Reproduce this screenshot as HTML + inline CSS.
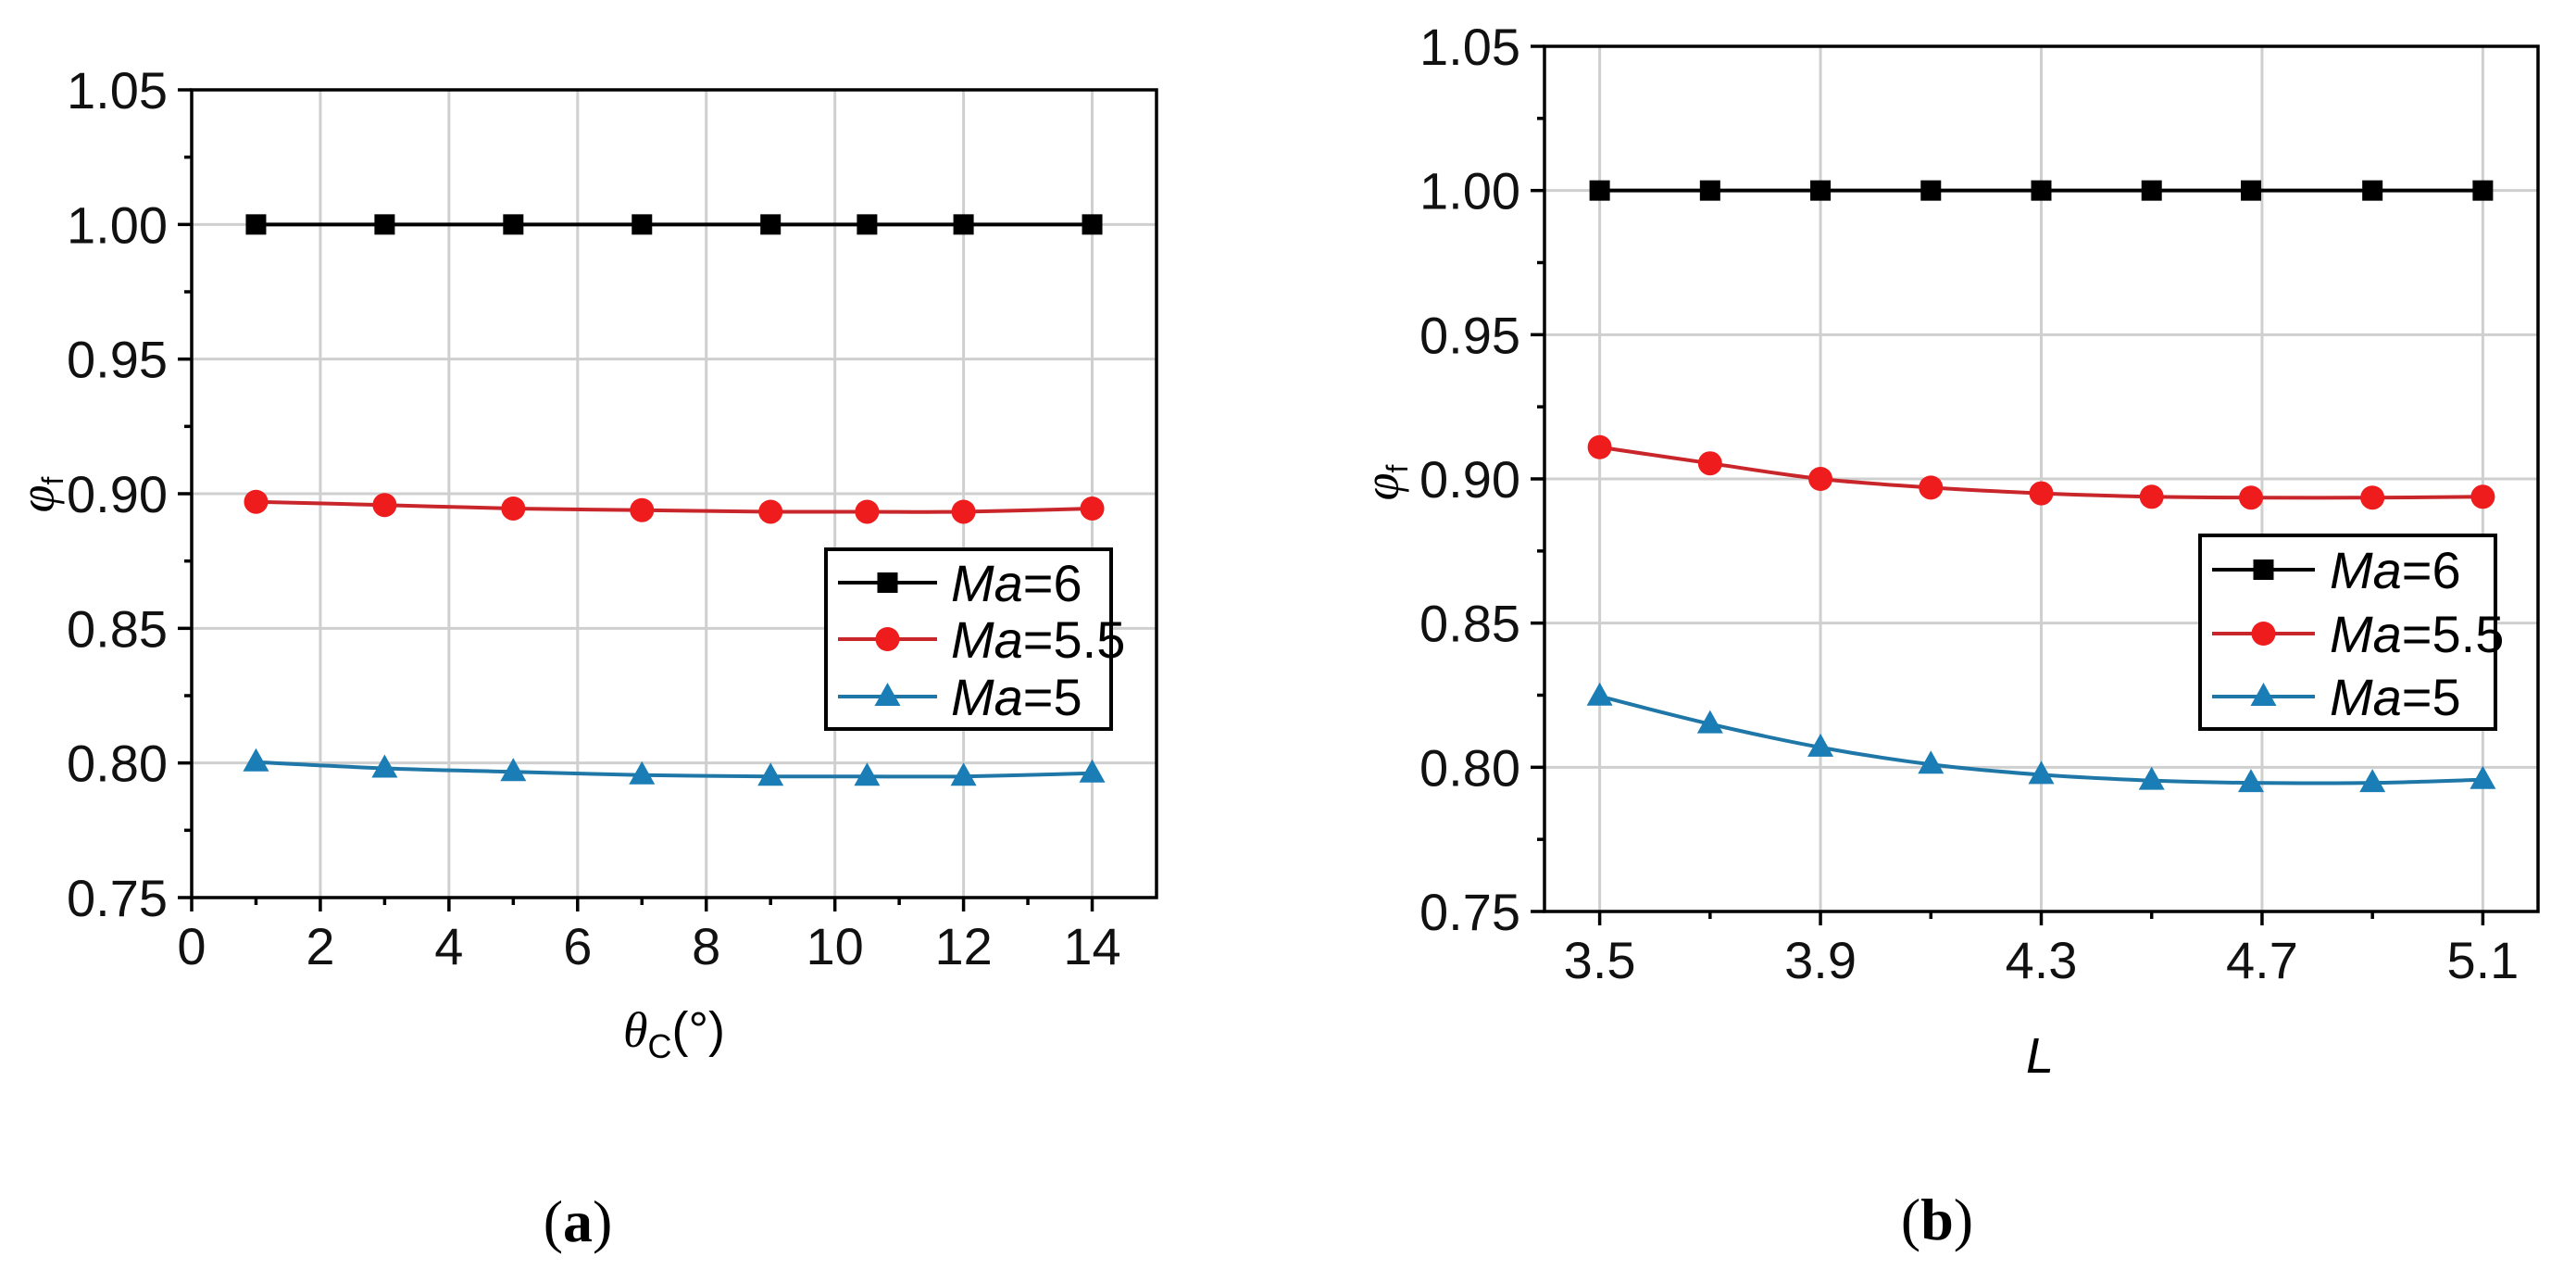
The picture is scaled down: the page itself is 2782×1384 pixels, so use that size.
<!DOCTYPE html>
<html><head><meta charset="utf-8"><style>
html,body{margin:0;padding:0;background:#fff;}
svg{display:block;font-family:"Liberation Sans",sans-serif;}
</style></head><body>
<svg id="fig" width="2782" height="1384" viewBox="0 0 2782 1384" xmlns="http://www.w3.org/2000/svg">
<rect x="0" y="0" width="2782" height="1384" fill="#fff"/>
<g id="chartA"></g>
<g id="chartB"></g>
<text x="624" y="1340" text-anchor="middle" font-family="Liberation Serif, serif" font-size="64">(<tspan font-weight="bold">a</tspan>)</text>
<text x="2092" y="1338" text-anchor="middle" font-family="Liberation Serif, serif" font-size="64">(<tspan font-weight="bold">b</tspan>)</text>
</svg>
<script>
// Chart A data
const aX = [1, 3, 5, 7, 9, 10.5, 12, 14];
const aMa6 = [1.0, 1.0, 1.0, 1.0, 1.0, 1.0, 1.0, 1.0];
const aMa55 = [0.897, 0.8958, 0.8945, 0.8939, 0.8933, 0.8933, 0.8933, 0.8945];
const aMa5 = [0.8003, 0.798, 0.7967, 0.7955, 0.795, 0.795, 0.795, 0.7962];
const aXTicks = [0, 2, 4, 6, 8, 10, 12, 14];
const aXTickLabels = ["0", "2", "4", "6", "8", "10", "12", "14"];
// Chart B data
const bX = [3.5, 3.7, 3.9, 4.1, 4.3, 4.5, 4.68, 4.9, 5.1];
const bMa6 = [1.0, 1.0, 1.0, 1.0, 1.0, 1.0, 1.0, 1.0, 1.0];
const bMa55 = [0.911, 0.9054, 0.900, 0.897, 0.895, 0.8938, 0.8935, 0.8935, 0.8938];
const bMa5 = [0.8246, 0.815, 0.8069, 0.801, 0.7974, 0.7954, 0.7946, 0.7946, 0.7957];
const bXTicks = [3.5, 3.9, 4.3, 4.7, 5.1];
const bXTickLabels = ["3.5", "3.9", "4.3", "4.7", "5.1"];
const yTicks = [0.75, 0.80, 0.85, 0.90, 0.95, 1.00, 1.05];
const yTickLabels = ["0.75", "0.80", "0.85", "0.90", "0.95", "1.00", "1.05"];
const seriesNames = ["Ma=6", "Ma=5.5", "Ma=5"];

const NS = "http://www.w3.org/2000/svg";
function mk(parent, tag, attrs) {
  const e = document.createElementNS(NS, tag);
  for (const k in attrs) e.setAttribute(k, attrs[k]);
  parent.appendChild(e);
  return e;
}

function drawChart(g, cfg) {
  const sx = v => cfg.x0 + (v - cfg.xmin) / (cfg.xmax - cfg.xmin) * (cfg.x1 - cfg.x0);
  const sy = v => cfg.y1 - (v - 0.75) / 0.30 * (cfg.y1 - cfg.y0);
  cfg.xTicks.forEach(t => {
    const l = mk(g, "line", {x1: sx(t), x2: sx(t), y1: cfg.y0, y2: cfg.y1, stroke: "#cfcfcf", "stroke-width": 3});
    
    
  });
  yTicks.forEach(t => {
    if (t <= 0.75 || t >= 1.05) return;
    const l = mk(g, "line", {x1: cfg.x0, x2: cfg.x1, y1: sy(t), y2: sy(t), stroke: "#cfcfcf", "stroke-width": 3});
    
    
  });
  const cols = ["#000000", "#ee1c1c", "#1a7db5"];
  const lineCols = ["#000000", "#c8262a", "#1f77a8"];
  const names = ["series-ma6", "series-ma5-5", "series-ma5"];
  cfg.series.forEach((vals, si) => {
    const pts = cfg.xs.map((x, i) => [sx(x), sy(vals[i])]);
    let d = "M" + pts[0][0] + " " + pts[0][1];
    for (let i = 0; i < pts.length - 1; i++) {
      const p0 = pts[Math.max(0, i - 1)], p1 = pts[i], p2 = pts[i + 1], p3 = pts[Math.min(pts.length - 1, i + 2)];
      const c1x = p1[0] + (p2[0] - p0[0]) / 6, c1y = p1[1] + (p2[1] - p0[1]) / 6;
      const c2x = p2[0] - (p3[0] - p1[0]) / 6, c2y = p2[1] - (p3[1] - p1[1]) / 6;
      d += " C" + c1x + " " + c1y + " " + c2x + " " + c2y + " " + p2[0] + " " + p2[1];
    }
    const path = mk(g, "path", {d: d, fill: "none", stroke: lineCols[si], "stroke-width": 4});
    
    
    pts.forEach(p => drawMarker(g, si, p[0], p[1], cols[si], names[si] + '-marker'));
  });
  const fr = mk(g, "rect", {x: cfg.x0, y: cfg.y0, width: cfg.x1 - cfg.x0, height: cfg.y1 - cfg.y0, fill: "none", stroke: "#000", "stroke-width": 3.5});
  
  
  yTicks.forEach((t, i) => {
    const y = sy(t);
    const tk = mk(g, "line", {x1: cfg.x0 - 15, x2: cfg.x0, y1: y, y2: y, stroke: "#000", "stroke-width": 3.5});
    
    
    const tx = mk(g, "text", {x: cfg.x0 - 26, y: y + 20, "text-anchor": "end", "font-size": 56, fill: "#111"});
    tx.textContent = yTickLabels[i];
    
    
    if (i < yTicks.length - 1) {
      const ym = sy(t + 0.025);
      const mt = mk(g, "line", {x1: cfg.x0 - 8, x2: cfg.x0, y1: ym, y2: ym, stroke: "#000", "stroke-width": 3.5});
      
      
    }
  });
  cfg.xTicks.forEach((t, i) => {
    const x = sx(t);
    const tk = mk(g, "line", {x1: x, x2: x, y1: cfg.y1, y2: cfg.y1 + 15, stroke: "#000", "stroke-width": 3.5});
    
    
    const tx = mk(g, "text", {x: x, y: cfg.y1 + 72, "text-anchor": "middle", "font-size": 56, fill: "#111"});
    tx.textContent = cfg.xLabels[i];
    
    
    const m = t + cfg.minorStep;
    if (sx(m) < cfg.x1 - 2) {
      const mt = mk(g, "line", {x1: sx(m), x2: sx(m), y1: cfg.y1, y2: cfg.y1 + 8, stroke: "#000", "stroke-width": 3.5});
      
      
    }
  });
  const yt = mk(g, "text", {x: cfg.yTitleX, y: cfg.yTitleY, "text-anchor": "middle", "font-size": 54, transform: "rotate(-90 " + cfg.yTitleX + " " + cfg.yTitleY + ")"});
  
  
  yt.innerHTML = '<tspan font-style="italic" font-family="Liberation Serif, serif">φ</tspan><tspan font-size="32" dy="10">f</tspan>';
  const xt = mk(g, "text", {x: cfg.xTitleX, y: cfg.xTitleY, "text-anchor": "middle", "font-size": 54});
  
  
  xt.innerHTML = cfg.xTitle;
  const L = cfg.legend;
  const lb = mk(g, "rect", {x: L.x, y: L.y, width: L.w, height: L.h, fill: "#fff", stroke: "#000", "stroke-width": 4});
  
  
  seriesNames.forEach((nm, si) => {
    const y = L.rows[si];
    const ll = mk(g, "line", {x1: L.lx0, x2: L.lx1, y1: y, y2: y, stroke: lineCols[si], "stroke-width": 4});
    
    
    drawMarker(g, si, (L.lx0 + L.lx1) / 2, y, cols[si], 'legend-marker');
    const t = mk(g, "text", {x: L.tx, y: y + 20, "font-size": 56});
    
    
    t.innerHTML = '<tspan font-style="italic">Ma</tspan>' + nm.slice(2);
  });
}

function drawMarker(g, si, x, y, c, name) {
  let m;
  if (si === 0) m = mk(g, "rect", {x: x - 11, y: y - 11, width: 22, height: 22, fill: c});
  else if (si === 1) m = mk(g, "circle", {cx: x, cy: y, r: 13, fill: c});
  else m = mk(g, "polygon", {points: (x) + "," + (y - 15) + " " + (x - 14) + "," + (y + 10) + " " + (x + 14) + "," + (y + 10), fill: c});
  
  
}

drawChart(document.getElementById("chartA"), {
  x0: 207, x1: 1249, y0: 97, y1: 969, xmin: 0, xmax: 15,
  xs: aX, series: [aMa6, aMa55, aMa5], xTicks: aXTicks, xLabels: aXTickLabels, minorStep: 1,
  yTitleX: 58, yTitleY: 534, xTitleX: 728, xTitleY: 1130,
  xTitle: '<tspan font-style="italic" font-family="Liberation Serif, serif">θ</tspan><tspan font-size="36" dy="12">C</tspan><tspan dy="-12">(°)</tspan>',
  legend: {x: 892, y: 593, w: 308, h: 194, rows: [629, 690, 752], lx0: 905, lx1: 1012, tx: 1027}
});
drawChart(document.getElementById("chartB"), {
  x0: 1668, x1: 2741, y0: 50, y1: 984, xmin: 3.4, xmax: 5.2,
  xs: bX, series: [bMa6, bMa55, bMa5], xTicks: bXTicks, xLabels: bXTickLabels, minorStep: 0.2,
  yTitleX: 1510, yTitleY: 521, xTitleX: 2203, xTitleY: 1158,
  xTitle: '<tspan font-style="italic">L</tspan>',
  legend: {x: 2376, y: 578, w: 319, h: 209, rows: [615, 684, 752], lx0: 2389, lx1: 2500, tx: 2516}
});
</script>
</body></html>
